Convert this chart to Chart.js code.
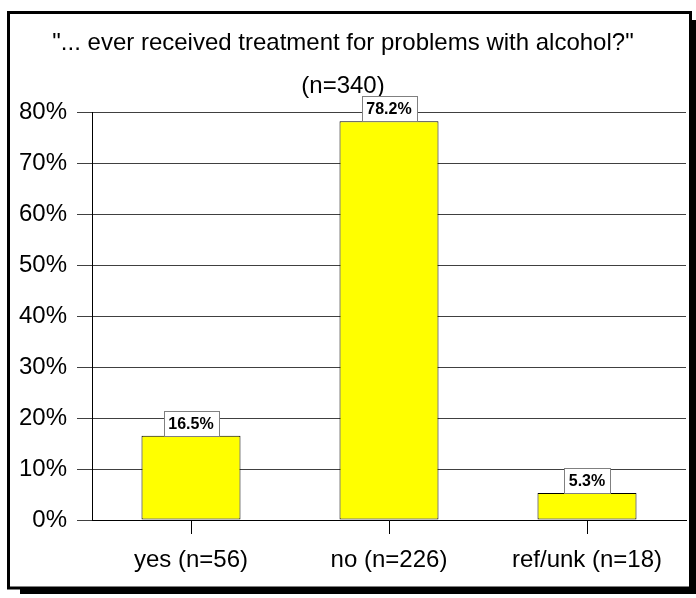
<!DOCTYPE html>
<html>
<head>
<meta charset="utf-8">
<script src="https://cdn.jsdelivr.net/npm/chart.js@4"></script>
<style>
  html, body { margin: 0; padding: 0; background: #fff; }
  #wrap { width: 696px; height: 598px; }
</style>
</head>
<body>
<div id="wrap"><canvas id="treatmentChart" width="696" height="598"></canvas></div>
<script>
const categories = ['yes (n=56)', 'no (n=226)', 'ref/unk (n=18)'];
const percentages = [16.5, 78.2, 5.3];
const titleLines = ['"... ever received treatment for problems with alcohol?"', '(n=340)'];

Chart.defaults.font.family = '"Liberation Sans", Arial, sans-serif';
Chart.defaults.color = '#000';

// frame with drop shadow round the whole chart
const framePlugin = {
    id: 'frame',
    beforeDraw(chart) {
        const ctx = chart.ctx;
        ctx.save();
        ctx.fillStyle = '#fff';
        ctx.fillRect(0, 0, chart.width, chart.height);
        ctx.fillStyle = '#000';
        ctx.fillRect(692, 20, 6, 574);
        ctx.fillRect(20, 589, 678, 5);
        ctx.strokeStyle = '#000';
        ctx.lineWidth = 3;
        ctx.strokeRect(8.5, 12.5, 682, 575.5);
        ctx.restore();
    }
};

// value boxes above each bar
const valueBoxes = {
    id: 'valueBoxes',
    afterDatasetsDraw(chart) {
        const ctx = chart.ctx;
        const meta = chart.getDatasetMeta(0);
        ctx.save();
        ctx.font = 'bold 16px "Liberation Sans", Arial, sans-serif';
        ctx.textAlign = 'center';
        ctx.textBaseline = 'middle';
        meta.data.forEach((bar, i) => {
            const label = percentages[i].toFixed(1) + '%';
            const w = Math.round(ctx.measureText(label).width) + 10;
            const h = 25;
            const left = Math.round(bar.x - w / 2) + 0.5;
            const top = Math.round(bar.y - h) + 0.5;
            ctx.fillStyle = '#fff';
            ctx.fillRect(left, top, w, h);
            ctx.strokeStyle = '#808080';
            ctx.lineWidth = 1;
            ctx.strokeRect(left, top, w, h);
            ctx.fillStyle = '#000';
            ctx.fillText(label, bar.x, bar.y - h / 2 + 1);
        });
        ctx.restore();
    }
};

new Chart(document.getElementById('treatmentChart').getContext('2d'), {
    type: 'bar',
    data: {
        labels: categories,
        datasets: [{
            data: percentages,
            backgroundColor: '#ffff00',
            borderColor: '#000',
            borderWidth: 1,
            borderSkipped: false,
            barPercentage: 0.5,
            categoryPercentage: 1
        }]
    },
    options: {
        responsive: false,
        animation: false,
        layout: { padding: { left: 0, right: 10, top: 0, bottom: 0 } },
        plugins: {
            legend: { display: false },
            tooltip: { enabled: false },
            title: {
                display: true,
                text: titleLines,
                color: '#000',
                font: { size: 24, weight: 'normal', lineHeight: 43 / 24 },
                padding: { top: 21.5, bottom: 4.5 }
            }
        },
        scales: {
            x: {
                grid: {
                    display: true,
                    drawOnChartArea: false,
                    drawTicks: true,
                    tickLength: 14,
                    offset: false,
                    color: '#000'
                },
                border: { display: true, color: '#000', width: 1 },
                ticks: {
                    color: '#000',
                    font: { size: 24, lineHeight: 1.2 },
                    padding: 12,
                    maxRotation: 0,
                    autoSkip: false
                },
                afterFit(scale) { scale.height = 78; }
            },
            y: {
                min: 0,
                max: 80,
                grid: {
                    color: '#404040',
                    drawTicks: true,
                    tickLength: 15
                },
                border: { display: true, color: '#000', width: 1 },
                ticks: {
                    stepSize: 10,
                    color: '#000',
                    font: { size: 24 },
                    padding: 10,
                    callback: v => v + '%'
                },
                afterFit(scale) { scale.width = 92; }
            }
        }
    },
    plugins: [framePlugin, valueBoxes]
});
</script>
</body>
</html>
